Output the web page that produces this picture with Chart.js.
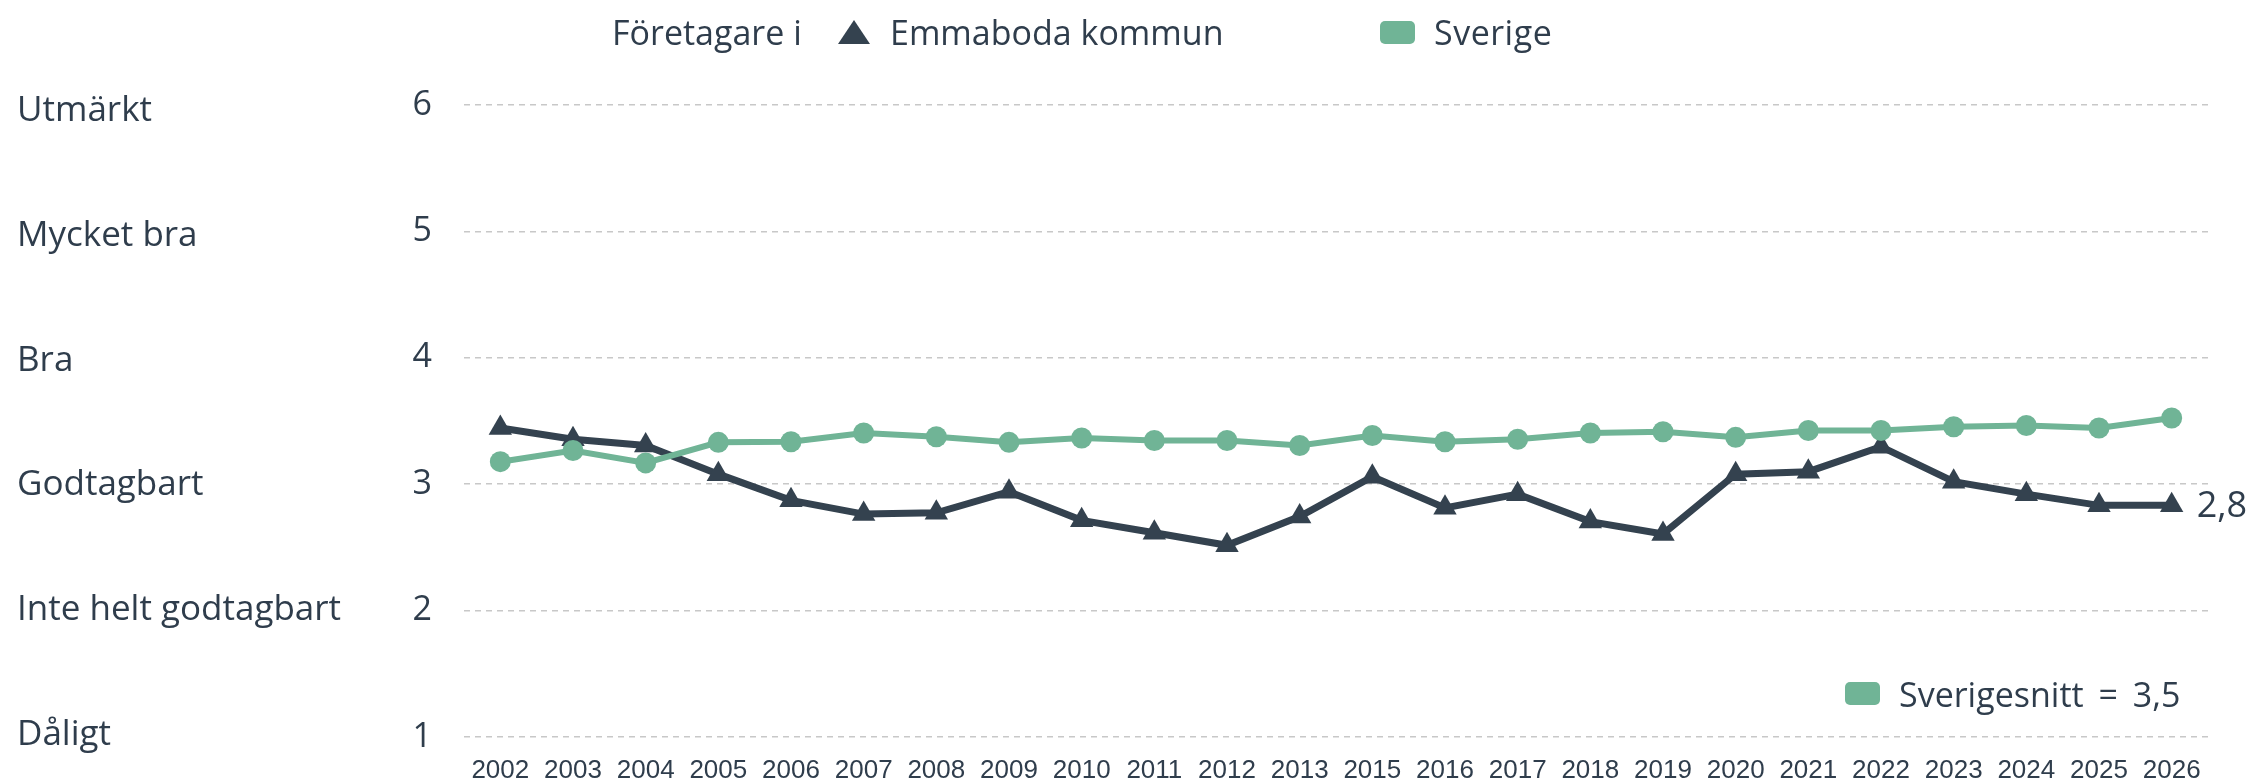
<!DOCTYPE html>
<html lang="sv">
<head>
<meta charset="utf-8">
<title>Företagare i Emmaboda kommun</title>
<script src="https://cdn.jsdelivr.net/npm/chart.js@4"></script>
<style>
  body { margin: 0; background: #fff; }
  #wrap { position: relative; width: 2260px; height: 781px; font-family: "Open Sans", sans-serif; color: #2f3d4c; }
  #graf { position: absolute; left: 0; top: 0; }
  .t { position: absolute; font-size: 34px; line-height: 1; white-space: nowrap; transform: translateY(-50%); }
  .tri { position: absolute; width: 0; height: 0; border-left: 16px solid transparent; border-right: 16px solid transparent; border-bottom: 24px solid #34424f; }
  .box { position: absolute; width: 35px; height: 23px; border-radius: 5px; background: #70b496; }
</style>
</head>
<body>
<div id="wrap">
  <canvas id="graf" width="2260" height="781"></canvas>
  <!-- förklaring överst -->
  <span class="t" style="left:612px; top:32px">Företagare i</span>
  <div class="tri" style="left:838px; top:20px"></div>
  <span class="t" id="namn1" style="left:890px; top:32px"></span>
  <div class="box" style="left:1380px; top:21px"></div>
  <span class="t" id="namn2" style="left:1434px; top:32px; word-spacing:2px; letter-spacing:0.5px"></span>
  <!-- snitt nere till höger -->
  <div class="box" style="left:1845px; top:682px"></div>
  <span class="t" id="snitt" style="left:1899px; top:694px; word-spacing:6px"></span>
</div>
<script>
// Data
const ar = ["2002", "2003", "2004", "2005", "2006", "2007", "2008", "2009", "2010", "2011", "2012", "2013",
  "2015", "2016", "2017", "2018", "2019", "2020", "2021", "2022", "2023", "2024", "2025", "2026"];
const emmaboda = [3.46, 3.37, 3.32, 3.09, 2.88, 2.77, 2.78, 2.95, 2.72, 2.62, 2.52, 2.75,
  3.07, 2.82, 2.93, 2.71, 2.61, 3.09, 3.11, 3.31, 3.03, 2.93, 2.84, 2.84];
const sverige = [3.19, 3.28, 3.18, 3.345, 3.35, 3.42, 3.39, 3.345, 3.38, 3.36, 3.36, 3.32,
  3.40, 3.35, 3.37, 3.42, 3.43, 3.385, 3.44, 3.44, 3.47, 3.48, 3.46, 3.54];
const betyg = ["Dåligt", "Inte helt godtagbart", "Godtagbart", "Bra", "Mycket bra", "Utmärkt"];
const steg = [1, 2, 3, 4, 5, 6];
const skala = [1, 6];
const serier = ["Emmaboda kommun", "Sverige"];
const sverigesnitt = 3.5;

const mork = "#34424f";
const gron = "#70b496";
const text = "#2f3d4c";
const komma = (v) => v.toFixed(1).replace(".", ",");

document.getElementById("namn1").textContent = serier[0];
document.getElementById("namn2").textContent = serier[1];
document.getElementById("snitt").textContent = "Sverigesnitt = " + komma(sverigesnitt);

// etikett vid sista punkten
const slutEtikett = {
  id: "slutEtikett",
  afterDatasetsDraw(chart) {
    const meta = chart.getDatasetMeta(1);
    const p = meta.data[meta.data.length - 1];
    const ctx = chart.ctx;
    ctx.save();
    ctx.font = '36px "Open Sans"';
    ctx.fillStyle = text;
    ctx.textAlign = "left";
    ctx.textBaseline = "middle";
    ctx.fillText(komma(emmaboda[emmaboda.length - 1]), p.x + 25, p.y + 1);
    ctx.restore();
  },
};

new Chart(document.getElementById("graf"), {
  type: "line",
  data: {
    labels: ar,
    datasets: [
      {
        label: serier[1],
        data: sverige,
        borderColor: gron,
        backgroundColor: gron,
        borderWidth: 6,
        pointRadius: 10.5,
        pointBorderWidth: 0,
        tension: 0,
      },
      {
        label: serier[0],
        data: emmaboda,
        borderColor: mork,
        backgroundColor: mork,
        borderWidth: 7,
        pointStyle: "triangle",
        pointRadius: 13.5,
        pointBorderWidth: 0,
        tension: 0,
      },
    ],
  },
  options: {
    responsive: false,
    animation: false,
    layout: { padding: { left: 17, right: 52, top: 105, bottom: 0 } },
    plugins: { legend: { display: false }, tooltip: { enabled: false } },
    scales: {
      x: {
        offset: true,
        grid: { display: false, drawTicks: false, tickLength: 0 },
        border: { display: false },
        ticks: {
          color: text,
          font: { family: '"Liberation Sans", Arial, sans-serif', size: 26 },
          padding: 18,
          maxRotation: 0,
          autoSkip: false,
        },
        afterFit: (s) => { s.height = 44; },
      },
      // betygstexterna sitter lite tätare än rutnätet i originalet
      yText: {
        position: "left",
        weight: 2,
        min: 0.984,
        max: 6.048,
        grid: { display: false, drawTicks: false },
        border: { display: false },
        ticks: {
          crossAlign: "far",
          padding: 0,
          color: text,
          font: { family: '"Open Sans", sans-serif', size: 35 },
          callback: (v) => betyg[v - 1],
        },
        afterBuildTicks: (s) => { s.ticks = steg.map((v) => ({ value: v })); },
        afterFit: (s) => { s.width = 396; },
      },
      y: {
        position: "left",
        weight: 1,
        min: skala[0],
        max: skala[1],
        // tickLength ger avståndet mellan siffra och rutnät, själva strecket syns inte
        grid: { color: "#c8c8c8", lineWidth: 1.5, drawTicks: true, tickLength: 32, tickColor: "rgba(0,0,0,0)", borderDash: [6, 5] },
        border: { display: false, dash: [6, 5] },
        ticks: {
          stepSize: 1,
          padding: 0,
          color: text,
          font: { family: '"Open Sans", sans-serif', size: 34 },
        },
        afterFit: (s) => { s.width = 51; },
      },
    },
  },
  plugins: [slutEtikett],
});
</script>
</body>
</html>
